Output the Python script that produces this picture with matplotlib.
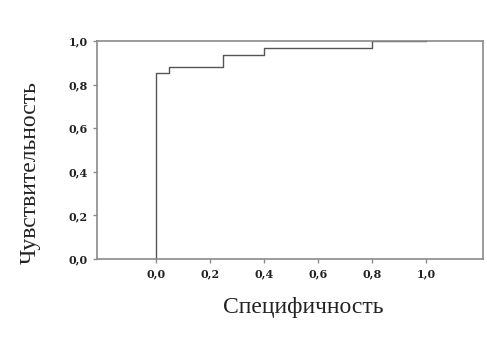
import matplotlib
matplotlib.use('Agg')
import matplotlib.pyplot as plt

# ROC curve steps (1 - specificity, sensitivity)
fpr = [0.0, 0.0, 0.05, 0.05, 0.25, 0.25, 0.40, 0.40, 0.80, 0.80, 1.0]
tpr = [0.0, 0.853, 0.853, 0.880, 0.880, 0.937, 0.937, 0.970, 0.970, 1.0, 1.0]
ticks = [0.0, 0.2, 0.4, 0.6, 0.8, 1.0]
tick_labels = ["0,0", "0,2", "0,4", "0,6", "0,8", "1,0"]

fig = plt.figure(figsize=(4.87, 3.39), dpi=100)
ax = fig.add_axes([0.199, 0.236, 0.793, 0.643])

ax.plot(fpr, tpr, color='#555555', lw=1.0)
ax.set_xlim(-0.217, 1.21)
ax.set_ylim(0, 1.0)

for s in ax.spines.values():
    s.set_color('#8a8a8a')
    s.set_linewidth(1.2)

ax.set_xticks(ticks)
ax.set_xticklabels(tick_labels)
ax.set_yticks(ticks)
ax.set_yticklabels(tick_labels)
ax.tick_params(axis='both', colors='#8a8a8a', length=3, width=1, labelcolor='#222222')
for lab in ax.get_xticklabels() + ax.get_yticklabels():
    lab.set_family('DejaVu Serif')
    lab.set_fontweight('bold')
    lab.set_fontsize(8)

fig.text(0.622, 0.094, "Специфичность", family='Liberation Serif', fontsize=17,
         ha='center', va='center', color='#222222')
fig.text(0.062, 0.492, "Чувствительность", family='Liberation Serif', fontsize=17,
         ha='center', va='center', rotation=90, color='#222222')

fig.savefig('out.png', dpi=100)
